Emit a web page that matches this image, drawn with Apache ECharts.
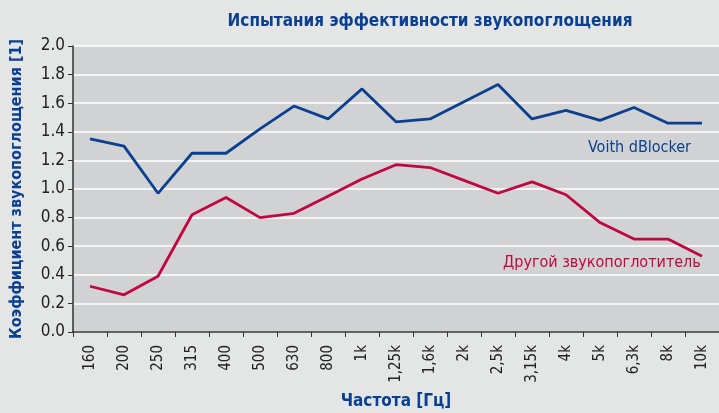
<!DOCTYPE html>
<html>
<head>
<meta charset="utf-8">
<script src="https://cdn.jsdelivr.net/npm/echarts@6/dist/echarts.min.js"></script>
<style>
  html, body { margin: 0; padding: 0; background: #e4e5e5; }
  #main { width: 719px; height: 413px; }
</style>
</head>
<body>
<div id="main"></div>
<script>
// Частоты (третьоктавные полосы)
var frequencies = ['160', '200', '250', '315', '400', '500', '630', '800', '1k', '1.25k',
  '1.6k', '2k', '2.5k', '3.15k', '4k', '5k', '6.3k', '8k', '10k'];

var voithValues = [1.35, 1.30, 0.97, 1.25, 1.25, 1.42, 1.58, 1.49, 1.70, 1.47,
  1.49, 1.61, 1.73, 1.49, 1.55, 1.48, 1.57, 1.46, 1.46];

var otherValues = [0.32, 0.26, 0.39, 0.82, 0.94, 0.80, 0.83, 0.95, 1.07, 1.17,
  1.15, 1.06, 0.97, 1.05, 0.96, 0.765, 0.65, 0.65, 0.53];

var yTicks = [0, 0.2, 0.4, 0.6, 0.8, 1.0, 1.2, 1.4, 1.6, 1.8, 2.0];

var BLUE = '#0b3f8f';
var RED = '#c0073f';
var FONT = "'Liberation Sans Narrow', 'DejaVu Sans Condensed', sans-serif";

var myChart = echarts.init(document.getElementById('main'));

var option = {
  backgroundColor: '#e4e5e5',
  animation: false,
  title: {
    text: 'Испытания эффективности звукопоглощения',
    left: 425,
    textAlign: 'center',
    top: 8,
    textStyle: { color: BLUE, fontFamily: FONT, fontWeight: 'bold', fontSize: 17 }
  },
  grid: {
    left: 73,
    right: 0,
    top: 46,
    bottom: 81,
    outerBoundsMode: 'none',
    containLabel: false,
    show: true,
    backgroundColor: '#d1d2d4',
    borderWidth: 0
  },
  xAxis: {
    type: 'category',
    data: frequencies,
    boundaryGap: true,
    name: 'Частота [Гц]',
    nameLocation: 'middle',
    nameGap: 61,
    nameTextStyle: { color: BLUE, fontFamily: FONT, fontWeight: 'bold', fontSize: 17 },
    axisLine: { lineStyle: { color: '#333', width: 1.5 } },
    axisTick: { show: true, length: 5, lineStyle: { color: '#333' } },
    axisLabel: {
      rotate: 90,
      interval: 0,
      margin: 13,
      color: '#222',
      fontFamily: FONT,
      fontSize: 15,
      formatter: function (v) { return v.replace('.', ','); }
    },
    splitLine: { show: false }
  },
  yAxis: {
    type: 'value',
    min: 0,
    max: 2,
    interval: 0.2,
    name: 'Коэффициент звукопоглощения [1]',
    nameLocation: 'middle',
    nameGap: 48,
    nameRotate: 90,
    nameTextStyle: { color: BLUE, fontFamily: FONT, fontWeight: 'bold', fontSize: 16 },
    axisLine: { show: true, lineStyle: { color: '#333', width: 1.5 } },
    axisTick: { show: true, length: 5, lineStyle: { color: '#333' } },
    axisLabel: {
      color: '#222',
      fontFamily: FONT,
      fontSize: 17,
      margin: 8,
      formatter: function (v) {
        var t = yTicks.find(function (k) { return Math.abs(k - v) < 1e-6; });
        return (t !== undefined ? t : v).toFixed(1);
      }
    },
    splitLine: { show: true, lineStyle: { color: '#ffffff', width: 1.5 } }
  },
  graphic: [
    {
      type: 'text',
      left: 588,
      top: 140,
      style: { text: 'Voith dBlocker', fill: BLUE, font: '16px ' + FONT }
    },
    {
      type: 'text',
      left: 503,
      top: 255,
      style: { text: 'Другой звукопоглотитель', fill: RED, font: '16px ' + FONT }
    }
  ],
  series: [
    {
      name: 'Voith dBlocker',
      type: 'line',
      data: voithValues,
      symbol: 'none',
      lineStyle: { color: BLUE, width: 2.8 },
      itemStyle: { color: BLUE }
    },
    {
      name: 'Другой звукопоглотитель',
      type: 'line',
      data: otherValues,
      symbol: 'none',
      lineStyle: { color: RED, width: 2.8 },
      itemStyle: { color: RED }
    }
  ]
};

option && myChart.setOption(option);
</script>
</body>
</html>
